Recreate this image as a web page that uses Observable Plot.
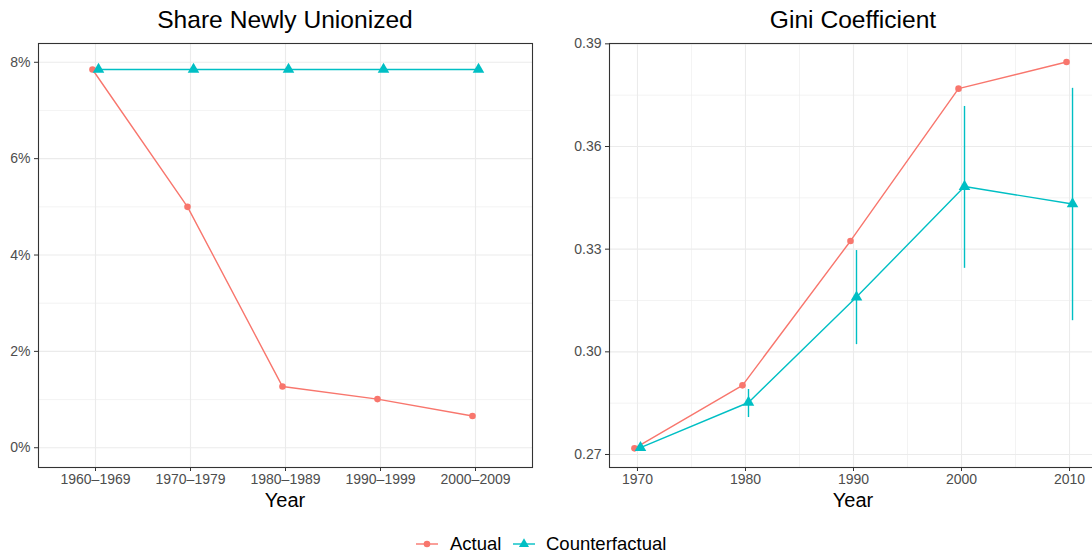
<!DOCTYPE html>
<html>
<head>
<meta charset="utf-8">
<script src="https://cdn.jsdelivr.net/npm/d3@7"></script>
<script src="https://cdn.jsdelivr.net/npm/@observablehq/plot@0.6"></script>
<style>
  html, body { margin: 0; padding: 0; background: #fff; width: 1092px; height: 559px; overflow: hidden; }
  body { position: relative; font-family: "Liberation Sans", Arial, sans-serif; }
  .abs { position: absolute; }
  .panel { width: 545px; height: 495px; }
  .panel svg { max-width: none !important; }
  .title { font-size: 24.6px; line-height: 24px; color: #000; text-align: center; white-space: nowrap; }
  .xlab { font-size: 20px; line-height: 20px; color: #000; text-align: center; }
  #legend { left: 0; top: 532px; width: 1092px; height: 26px; }
</style>
</head>
<body>
<div id="left" class="abs panel" style="left:0;top:0"></div>
<div id="right" class="abs panel" style="left:560px;top:0"></div>
<div class="abs title" style="left:85px;top:8px;width:400px">Share Newly Unionized</div>
<div class="abs title" style="left:653px;top:8px;width:400px">Gini Coefficient</div>
<div class="abs xlab" style="left:235px;top:490px;width:100px">Year</div>
<div class="abs xlab" style="left:803px;top:490px;width:100px">Year</div>
<svg id="legend" class="abs" width="1092" height="26"></svg>
<script>
// ---- data ----
const periods = ["1960–1969", "1970–1979", "1980–1989", "1990–1999", "2000–2009"];
const unionActual = [0.0785, 0.0500, 0.0127, 0.0101, 0.0066];
const unionCounterfactual = [0.0785, 0.0785, 0.0785, 0.0785, 0.0785];

const years = [1970, 1980, 1990, 2000, 2010];
const giniActual = [0.2718, 0.2902, 0.3324, 0.3769, 0.3847];
const giniCounterfactual = [0.2720, 0.2852, 0.3160, 0.3483, 0.3432];
const giniCfLow = [0.2720, 0.2808, 0.3021, 0.3244, 0.3091];
const giniCfHigh = [0.2720, 0.2890, 0.3296, 0.3717, 0.3770];

const seriesNames = ["Actual", "Counterfactual"];
const seriesColors = ["#F8766D", "#00BFC4"];

const unionRows = periods.flatMap((p, i) => [
  {period: p, series: "Actual", value: unionActual[i]},
  {period: p, series: "Counterfactual", value: unionCounterfactual[i]}
]);
const giniRows = years.flatMap((y, i) => [
  {year: y, series: "Actual", value: giniActual[i], lo: null, hi: null},
  {year: y, series: "Counterfactual", value: giniCounterfactual[i], lo: giniCfLow[i], hi: giniCfHigh[i]}
]);

const GRID = "#ebebeb";
const FRAME = "#333333";
const TXT = "#4d4d4d";
const font = {fontFamily: "'Liberation Sans', Arial, sans-serif", fontSize: "14px", background: "transparent", overflow: "visible", maxWidth: "none"};
const colorScale = {domain: seriesNames, range: seriesColors};

// ---- left panel ----
const uYMajor = [0, 0.02, 0.04, 0.06, 0.08];
const uYMinor = [0.01, 0.03, 0.05, 0.07];
const uA = unionRows.filter(d => d.series === "Actual");
const uC = unionRows.filter(d => d.series === "Counterfactual");

const left = Plot.plot({
  width: 545, height: 495,
  marginLeft: 38, marginRight: 13, marginTop: 43, marginBottom: 28,
  style: font,
  x: {type: "point", domain: periods, padding: 0.6},
  y: {domain: [-0.0041, 0.0839]},
  color: colorScale,
  marks: [
    Plot.ruleY(uYMinor, {stroke: GRID, strokeWidth: 0.6}),
    Plot.ruleY(uYMajor, {stroke: GRID, strokeWidth: 1.1}),
    Plot.ruleX(periods, {stroke: GRID, strokeWidth: 1.1}),
    Plot.line(uA, {x: "period", y: "value", stroke: seriesColors[0], strokeWidth: 1.4, dx: -3}),
    Plot.line(uC, {x: "period", y: "value", stroke: seriesColors[1], strokeWidth: 1.4, dx: 3}),
    Plot.dot(uA, {x: "period", y: "value", fill: seriesColors[0], r: 3.3, dx: -3}),
    Plot.dot(uC, {x: "period", y: "value", fill: seriesColors[1], r: 4.3, symbol: "triangle", dx: 3}),
    Plot.frame({stroke: FRAME, strokeWidth: 1.1}),
    Plot.axisY(uYMajor, {tickFormat: d3.format(".0%"), tickSize: 4, tickPadding: 4, stroke: FRAME, fill: TXT, label: null, fontSize: 14}),
    Plot.axisX(periods, {tickSize: 4, tickPadding: 3, stroke: FRAME, fill: TXT, label: null, fontSize: 14})
  ]
});
document.getElementById("left").appendChild(left);

// ---- right panel ----
const gYMajor = [0.27, 0.30, 0.33, 0.36, 0.39];
const gYMinor = [0.285, 0.315, 0.345, 0.375];
const gXMinor = [1975, 1985, 1995, 2005];
const gA = giniRows.filter(d => d.series === "Actual");
const gC = giniRows.filter(d => d.series === "Counterfactual");

const right = Plot.plot({
  width: 545, height: 495,
  marginLeft: 49, marginRight: 8, marginTop: 43, marginBottom: 28,
  style: font,
  x: {domain: [1967.41, 2012.59]},
  y: {domain: [0.2662, 0.3901]},
  color: colorScale,
  marks: [
    Plot.ruleY(gYMinor, {stroke: GRID, strokeWidth: 0.6}),
    Plot.ruleY(gYMajor, {stroke: GRID, strokeWidth: 1.1}),
    Plot.ruleX(gXMinor, {stroke: GRID, strokeWidth: 0.6}),
    Plot.ruleX(years, {stroke: GRID, strokeWidth: 1.1}),
    Plot.ruleX(gC.filter(d => d.hi > d.lo), {x: "year", y1: "lo", y2: "hi", stroke: seriesColors[1], strokeWidth: 1.4, dx: 3}),
    Plot.line(gA, {x: "year", y: "value", stroke: seriesColors[0], strokeWidth: 1.4, dx: -3}),
    Plot.line(gC, {x: "year", y: "value", stroke: seriesColors[1], strokeWidth: 1.4, dx: 3}),
    Plot.dot(gA, {x: "year", y: "value", fill: seriesColors[0], r: 3.3, dx: -3}),
    Plot.dot(gC, {x: "year", y: "value", fill: seriesColors[1], r: 4.3, symbol: "triangle", dx: 3}),
    Plot.frame({stroke: FRAME, strokeWidth: 1.1}),
    Plot.axisY(gYMajor, {tickFormat: d3.format(".2f"), tickSize: 4, tickPadding: 4, stroke: FRAME, fill: TXT, label: null, fontSize: 14}),
    Plot.axisX(years, {tickFormat: d => String(d), tickSize: 4, tickPadding: 3, stroke: FRAME, fill: TXT, label: null, fontSize: 14})
  ]
});
right.style.maxWidth = "none";
left.style.maxWidth = "none";
document.getElementById("right").appendChild(right);

// ---- legend ----
const lg = d3.select("#legend");
const items = [
  {name: seriesNames[0], color: seriesColors[0], x: 416, tx: 450, sym: d3.symbolCircle, size: 34},
  {name: seriesNames[1], color: seriesColors[1], x: 513, tx: 546, sym: d3.symbolTriangle, size: 44}
];
items.forEach(it => {
  const g = lg.append("g");
  g.append("line").attr("x1", it.x).attr("x2", it.x + 22).attr("y1", 12).attr("y2", 12)
    .attr("stroke", it.color).attr("stroke-width", 1.4);
  g.append("path").attr("d", d3.symbol(it.sym, it.size)()).attr("transform", `translate(${it.x + 11},12)`)
    .attr("fill", it.color);
  g.append("text").attr("x", it.tx).attr("y", 12).attr("dy", "0.35em")
    .attr("font-family", "'Liberation Sans', Arial, sans-serif").attr("font-size", 18.5).attr("fill", "#000")
    .text(it.name);
});
</script>
</body>
</html>
